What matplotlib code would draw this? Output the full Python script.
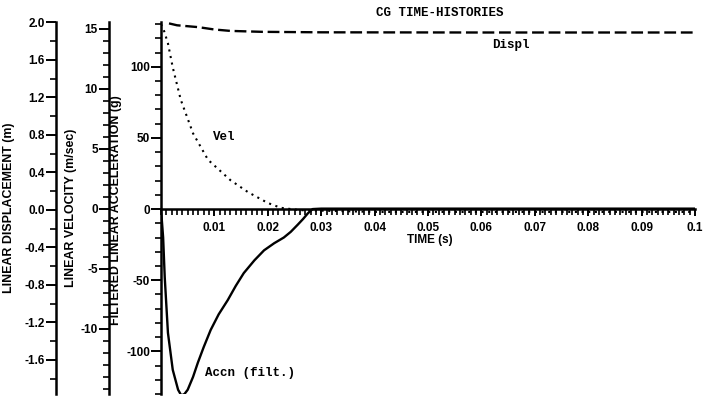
import matplotlib
matplotlib.use("Agg")
import matplotlib.pyplot as plt
from matplotlib.ticker import MultipleLocator, FixedLocator, FuncFormatter

plt.rcParams['font.family'] = ['Liberation Sans', 'DejaVu Sans']
plt.rcParams['axes.unicode_minus'] = False

# filtered acceleration (g)
acc_t = [0, 0.0004, 0.0007, 0.0013, 0.0022, 0.0032, 0.0038, 0.0044, 0.0050,
         0.0060, 0.0069, 0.0080, 0.0093, 0.0108, 0.0125, 0.0140, 0.0155,
         0.0175, 0.0193, 0.0212, 0.0230, 0.0243, 0.0256, 0.0266, 0.0275,
         0.0284, 0.030, 0.040, 0.060, 0.080, 0.100]
acc_g = [0, -20, -48, -87, -113, -127, -131, -130, -127,
         -118, -108, -97, -85, -74, -64, -54, -45,
         -36, -29, -24, -20, -16, -11, -7, -3,
         0, 0.3, 0.3, 0.3, 0.3, 0.3]

# linear velocity (m/sec)
vel_t = [0, 0.0006, 0.0013, 0.0022, 0.0037, 0.0060, 0.0088, 0.0130,
         0.0163, 0.0200, 0.0224, 0.0260, 0.040, 0.070, 0.100]
vel = [15.4, 14.8, 13.8, 11.8, 9.1, 6.3, 4.1, 2.4,
       1.4, 0.5, 0.1, -0.1, -0.25, -0.25, -0.25]

# linear displacement (m)
disp_t = [0.0015, 0.003, 0.007, 0.010, 0.013, 0.019, 0.030, 0.060, 0.100]
disp = [1.99, 1.97, 1.95, 1.925, 1.91, 1.90, 1.895, 1.893, 1.893]

x_ticks = [0.01, 0.02, 0.03, 0.04, 0.05, 0.06, 0.07, 0.08, 0.09, 0.1]
acc_ticks = [-100, -50, 0, 50, 100]
vel_ticks = [-10, -5, 0, 5, 10, 15]
disp_ticks = [-1.6, -1.2, -0.8, -0.4, 0.0, 0.4, 0.8, 1.2, 1.6, 2.0]

tick_font = dict(family='Liberation Sans', weight='bold', size=8.5)
mono = dict(family='Liberation Mono', weight='bold', size=9)

fig = plt.figure(figsize=(7.03, 4.0), dpi=100)
ax = fig.add_axes([161 / 703, 6 / 400, 534 / 703, 372 / 400])
ax_v = ax.twinx()
ax_d = ax.twinx()

# acceleration axis (main)
ax.plot(acc_t, acc_g, color='black', lw=1.7)
ax.set_xlim(0, 0.1)
ax.set_ylim(-130, 131.5)
for s in ['top', 'right']:
    ax.spines[s].set_visible(False)
ax.spines['bottom'].set_position(('data', 0))
ax.spines['left'].set_linewidth(1.8)
ax.spines['bottom'].set_linewidth(1.8)
ax.xaxis.set_major_locator(FixedLocator(x_ticks))
ax.xaxis.set_minor_locator(MultipleLocator(0.001))
ax.xaxis.set_major_formatter(FuncFormatter(lambda v, p: f"{v:g}"))
ax.yaxis.set_major_locator(FixedLocator(acc_ticks))
ax.yaxis.set_minor_locator(MultipleLocator(10))
ax.tick_params(axis='x', which='major', direction='out', length=5, width=1.4, pad=4)
ax.tick_params(axis='x', which='minor', direction='out', length=4, width=1.2)
ax.tick_params(axis='y', which='major', length=7, width=1.4, pad=1)
ax.tick_params(axis='y', which='minor', length=4, width=1.2)
for lab in ax.get_xticklabels() + ax.get_yticklabels():
    lab.set(**tick_font)

# velocity axis
ax_v.plot(vel_t, vel, color='black', lw=1.5, linestyle=(0, (1, 2.2)))
ax_v.set_ylim(-15.42, 15.58)
# displacement axis
ax_d.plot(disp_t, disp, color='black', lw=1.7, linestyle=(0, (5, 2)))
ax_d.set_ylim(-1.963, 2.005)

for a, off, ticks, minor in [(ax_v, -0.0974, vel_ticks, 1),
                             (ax_d, -0.1966, disp_ticks, 0.2)]:
    for s in ['top', 'right', 'bottom']:
        a.spines[s].set_visible(False)
    a.spines['left'].set_visible(True)
    a.spines['left'].set_position(('axes', off))
    a.spines['left'].set_linewidth(1.8)
    a.yaxis.set_ticks_position('left')
    a.yaxis.set_major_locator(FixedLocator(ticks))
    a.yaxis.set_minor_locator(MultipleLocator(minor))
    a.tick_params(axis='y', which='major', length=7, width=1.4, pad=1)
    a.tick_params(axis='y', which='minor', length=4, width=1.2)
    for lab in a.get_yticklabels():
        lab.set(**tick_font)
ax_d.yaxis.set_major_formatter(FuncFormatter(lambda v, p: f"{v:.1f}"))

# labels
lab_font = dict(family='Liberation Sans', weight='bold', size=8.9)
fig.text(9 / 703, 1 - 208 / 400, 'LINEAR DISPLACEMENT (m)', rotation=90,
         ha='center', va='center', **lab_font)
fig.text(71 / 703, 1 - 208 / 400, 'LINEAR VELOCITY (m/sec)', rotation=90,
         ha='center', va='center', **lab_font)
fig.text(116 / 703, 1 - 210 / 400, 'FILTERED LINEAR ACCELERATION (g)', rotation=90,
         ha='center', va='center', **lab_font)
fig.text(440 / 703, 1 - 13 / 400, 'CG TIME-HISTORIES', ha='center', va='center', **mono)
ax.text(0.0504, -22, 'TIME (s)', ha='center', va='center', **tick_font)

ax.text(0.0655, 115.5, 'Displ', ha='center', va='center', **mono)
ax.text(0.0098, 50.7, 'Vel', ha='left', va='center', **mono)
ax.text(0.0083, -115, 'Accn (filt.)', ha='left', va='center', **mono)

fig.savefig('out.png', dpi=100)
